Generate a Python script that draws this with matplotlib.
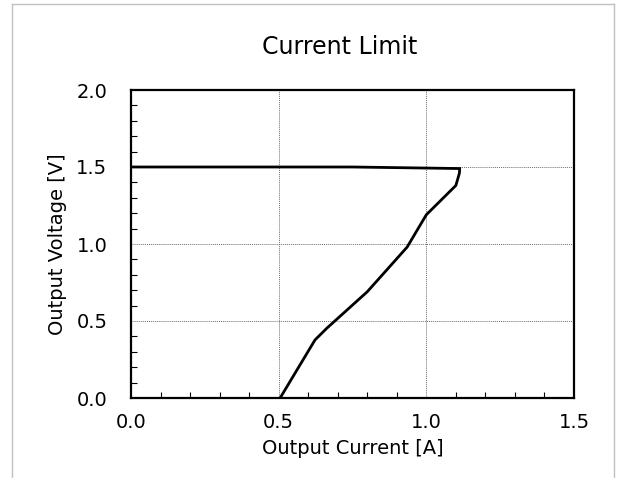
import numpy as np
import matplotlib
matplotlib.use('Agg')
import matplotlib.pyplot as plt
from matplotlib.ticker import MultipleLocator
from matplotlib.lines import Line2D

# Current limit curve
current_a = [0.0, 0.75, 1.113, 1.112, 1.10, 1.00, 0.935, 0.80, 0.663, 0.623, 0.505]
voltage_v = [1.50, 1.50, 1.49, 1.46, 1.38, 1.19, 0.98, 0.69, 0.453, 0.377, 0.0]

x_ticks = [0.0, 0.5, 1.0, 1.5]
y_ticks = [0.0, 0.5, 1.0, 1.5, 2.0]

W, H = 617, 478
fig = plt.figure(figsize=(W / 100, H / 100), dpi=100)
ax = fig.add_axes([131 / W, 1 - 398 / H, (574 - 131) / W, (398 - 90) / H])

ax.plot(current_a, voltage_v, color='black', lw=2.0, solid_joinstyle='miter')

ax.set_xlim(0, 1.5)
ax.set_ylim(0, 2.0)
ax.set_xticks(x_ticks)
ax.set_yticks(y_ticks)
ax.set_xticklabels([f'{v:.1f}' for v in x_ticks])
ax.set_yticklabels([f'{v:.1f}' for v in y_ticks])
ax.xaxis.set_minor_locator(MultipleLocator(0.1))
ax.yaxis.set_minor_locator(MultipleLocator(0.1))
ax.tick_params(which='both', direction='in', top=False, right=False,
               labelsize=14, colors='black')
ax.tick_params(which='major', length=0, width=0)
ax.tick_params(axis='x', which='major', pad=11)
ax.tick_params(axis='y', which='major', pad=17)
ax.tick_params(which='minor', length=4, width=0.8)
ax.grid(True, which='major', color='#707070', ls=(0, (1, 1)), lw=0.7)

for s in ax.spines.values():
    s.set_linewidth(1.6)
    s.set_color('black')

ax.set_xlabel('Output Current [A]', fontsize=14, labelpad=5)
ax.set_ylabel('Output Voltage [V]', fontsize=14, labelpad=7)
fig.text(340 / W, 1 - 47 / H, 'Current Limit', fontsize=17,
         ha='center', va='center')

# outer gray frame (cut off at the bottom)
frame = '#c0c0c0'
fig.add_artist(Line2D([12 / W, 12 / W], [0, 1 - 4 / H], transform=fig.transFigure, color=frame, lw=1))
fig.add_artist(Line2D([614 / W, 614 / W], [0, 1 - 4 / H], transform=fig.transFigure, color=frame, lw=1))
fig.add_artist(Line2D([12 / W, 614 / W], [1 - 4 / H, 1 - 4 / H], transform=fig.transFigure, color=frame, lw=1))

fig.savefig('out.png', dpi=100)
